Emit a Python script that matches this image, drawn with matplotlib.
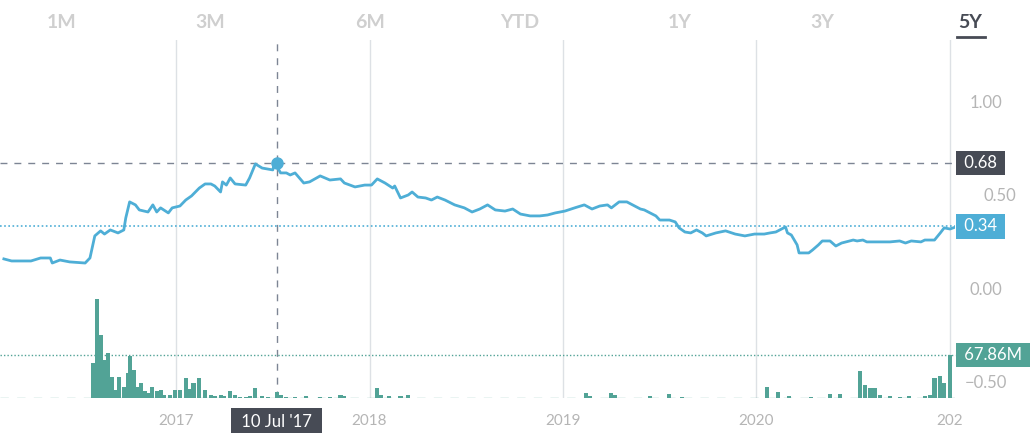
import matplotlib.pyplot as plt
from matplotlib.patches import FancyBboxPatch

# price line (fractional year, price)
price_years = [2016.11, 2016.15, 2016.25, 2016.30, 2016.35, 2016.36, 2016.40, 2016.45, 2016.53, 2016.555,
               2016.58, 2016.61, 2016.63, 2016.66, 2016.70, 2016.73, 2016.74, 2016.76, 2016.79, 2016.81,
               2016.855, 2016.88, 2016.90, 2016.92, 2016.96, 2016.98, 2017.02, 2017.05, 2017.08, 2017.12,
               2017.15, 2017.18, 2017.20, 2017.23, 2017.24, 2017.26, 2017.28, 2017.305, 2017.36, 2017.38,
               2017.41, 2017.445, 2017.50, 2017.51, 2017.54, 2017.57, 2017.59, 2017.615, 2017.66, 2017.69,
               2017.745, 2017.795, 2017.85, 2017.87, 2017.925, 2017.975, 2018.01, 2018.04, 2018.08, 2018.12,
               2018.13, 2018.16, 2018.20, 2018.22, 2018.25, 2018.29, 2018.32, 2018.35, 2018.39, 2018.44,
               2018.49, 2018.52, 2018.53, 2018.57, 2018.61, 2018.65, 2018.70, 2018.74, 2018.78, 2018.83,
               2018.88, 2018.92, 2018.96, 2019.01, 2019.06, 2019.11, 2019.15, 2019.19, 2019.23, 2019.25,
               2019.29, 2019.33, 2019.36, 2019.40, 2019.42, 2019.48, 2019.50, 2019.55, 2019.58, 2019.60,
               2019.63, 2019.66, 2019.69, 2019.72, 2019.74, 2019.79, 2019.84, 2019.89, 2019.94, 2019.99,
               2020.04, 2020.07, 2020.10, 2020.12, 2020.15, 2020.16, 2020.18, 2020.21, 2020.22, 2020.27,
               2020.29, 2020.32, 2020.34, 2020.38, 2020.41, 2020.44, 2020.48, 2020.50, 2020.52, 2020.55,
               2020.57, 2020.61, 2020.69, 2020.74, 2020.77, 2020.80, 2020.85, 2020.87, 2020.92, 2020.95,
               2020.97, 2021.00, 2021.03]
price_vals = [0.166, 0.155, 0.155, 0.171, 0.171, 0.144, 0.160, 0.150, 0.144, 0.171,
              0.289, 0.316, 0.299, 0.321, 0.305, 0.321, 0.385, 0.471, 0.455, 0.428,
              0.417, 0.455, 0.417, 0.439, 0.412, 0.439, 0.449, 0.481, 0.503, 0.545,
              0.567, 0.567, 0.556, 0.524, 0.578, 0.561, 0.599, 0.567, 0.561, 0.599,
              0.674, 0.652, 0.642, 0.684, 0.626, 0.626, 0.615, 0.626, 0.572, 0.578,
              0.610, 0.588, 0.594, 0.572, 0.551, 0.561, 0.561, 0.594, 0.572, 0.545,
              0.556, 0.492, 0.508, 0.524, 0.497, 0.492, 0.481, 0.497, 0.481, 0.455,
              0.439, 0.422, 0.417, 0.433, 0.455, 0.428, 0.422, 0.433, 0.406, 0.396,
              0.396, 0.401, 0.412, 0.422, 0.439, 0.455, 0.433, 0.449, 0.455, 0.439,
              0.471, 0.471, 0.455, 0.433, 0.428, 0.396, 0.374, 0.374, 0.364, 0.332,
              0.310, 0.305, 0.321, 0.305, 0.289, 0.305, 0.316, 0.299, 0.289, 0.299,
              0.299, 0.305, 0.310, 0.321, 0.337, 0.305, 0.294, 0.241, 0.198, 0.198,
              0.214, 0.241, 0.262, 0.262, 0.235, 0.251, 0.262, 0.267, 0.262, 0.267,
              0.257, 0.257, 0.257, 0.262, 0.251, 0.262, 0.257, 0.267, 0.267, 0.305,
              0.332, 0.326, 0.337]

# weekly volume (fractional year, millions)
vol_years = [2016.57, 2016.59, 2016.61, 2016.63, 2016.65, 2016.67, 2016.685, 2016.705, 2016.73, 2016.75,
             2016.76, 2016.78, 2016.80, 2016.82, 2016.84, 2016.86, 2016.875, 2016.90, 2016.92, 2016.94,
             2016.97, 2016.995, 2017.02, 2017.05, 2017.07, 2017.09, 2017.12, 2017.15, 2017.18, 2017.20,
             2017.23, 2017.25, 2017.28, 2017.305, 2017.33, 2017.36, 2017.38, 2017.41, 2017.445, 2017.475,
             2017.52, 2017.54, 2017.57, 2017.615, 2017.67, 2017.745, 2017.795, 2017.85, 2017.87, 2018.04,
             2018.06, 2018.10, 2018.16, 2018.20, 2019.12, 2019.14, 2019.25, 2019.27, 2019.45, 2019.55,
             2019.615, 2020.055, 2020.11, 2020.17, 2020.28, 2020.38, 2020.43, 2020.535, 2020.56, 2020.585,
             2020.61, 2020.64, 2020.69, 2020.74, 2020.79, 2020.87, 2020.895, 2020.92, 2020.95, 2020.97,
             2021.00]
vol_vals = [55, 156, 99, 60, 71, 33, 13, 33, 17, 39,
            66, 44, 17, 24, 11, 8, 17, 11, 13, 5,
            5, 13, 13, 32, 14, 24, 32, 13, 5, 3,
            5, 3, 11, 5, 2, 2, 3, 16, 3, 2,
            9, 5, 2, 2, 3, 2, 2, 5, 3, 16,
            5, 3, 3, 5, 8, 3, 8, 5, 3, 6,
            2, 17, 9, 3, 2, 6, 6, 43, 21, 16,
            16, 5, 3, 2, 3, 3, 5, 32, 35, 24,
            67.86]

year_ticks = [2017, 2018, 2019, 2020, 2021]
year_labels = ["2017", "2018", "2019", "2020", "202"]
price_ticks = [1.00, 0.50, 0.00, -0.50]
ranges = ["1M", "3M", "6M", "YTD", "1Y", "3Y", "5Y"]
range_x = [62, 210, 370, 520, 680, 822, 970]

peak_year, peak_val = 2017.52, 0.68
last_val = 0.34
last_vol = 67.86

LINE = "#4eaed6"
BAR = "#52a396"
DARK = "#474b55"
GREY = "#b5b5b5"

plt.rcParams["font.family"] = ["Lato", "DejaVu Sans"]
W, H = 1030, 433
fig = plt.figure(figsize=(W / 100, H / 100), dpi=100)

ax = fig.add_axes([0, 1 - 398 / H, 955 / W, 358 / H])
ax.set_xlim(2016.09, 2021.026)
ax.set_ylim(-0.578, 1.337)
for s in ax.spines.values():
    s.set_visible(False)
ax.set_xticks([])
ax.set_yticks([])
ax.patch.set_alpha(0)

for yr in year_ticks:
    ax.axvline(yr, color="#dde1e5", lw=1, zorder=0)

vax = ax.twinx()
vax.set_ylim(0, 565)
vax.set_axis_off()
vax.bar(vol_years, vol_vals, width=0.021, color=BAR, align="center", zorder=2)
vax.axhline(0, color=BAR, lw=1, dashes=(6, 6), alpha=0.6)
vax.axhline(last_vol, color=BAR, lw=1, ls=(0, (1, 1.5)), clip_on=False)

ax.plot(price_years, price_vals, color=LINE, lw=2, zorder=3)
ax.axhline(peak_val, color="#7d8594", lw=1, dashes=(5, 5), clip_on=False)
ax.axhline(last_val, color=LINE, lw=1.2, ls=(0, (1, 1.5)), clip_on=False)
ax.axvline(peak_year, color="#7d8594", lw=1, dashes=(5, 5), ymax=1.0)
ax.plot([peak_year], [peak_val], "o", color=LINE, ms=8, zorder=5)

# right side labels
for v in price_ticks:
    if v == 0.50:
        continue
    ax.text(1.01 + (0.005 if v >= 0 else 0), v, f"{v:.2f}".replace("-", "\u2212"), transform=ax.get_yaxis_transform(),
            color=GREY, fontsize=12, va="center", ha="left")
ax.text(1.03, 0.50, "0.50", transform=ax.get_yaxis_transform(), color=GREY, fontsize=12, va="center")


def tag(axis, y, text, color):
    axis.text(1.005, y, " " + text + " ", transform=axis.get_yaxis_transform(), color="white",
              fontsize=12, va="center", ha="left", zorder=6,
              bbox=dict(boxstyle="square,pad=0.25", fc=color, ec="none"))


tag(ax, peak_val, f"{peak_val:.2f}", DARK)
tag(ax, last_val, f"{last_val:.2f}", LINE)
tag(vax, last_vol, f"{last_vol:.2f}M", BAR)

# year labels
for yr, lab in zip(year_ticks, year_labels):
    ax.text(yr, -0.045, lab, transform=ax.get_xaxis_transform(), color=GREY, fontsize=11,
            ha="center", va="top")
ax.text(peak_year, -0.045, " 10 Jul '17 ", transform=ax.get_xaxis_transform(), color="white",
        fontsize=12, ha="center", va="top", zorder=7,
        bbox=dict(boxstyle="square,pad=0.35", fc=DARK, ec="none"))

# range buttons
for lab, x in zip(ranges, range_x):
    c = DARK if lab == "5Y" else "#cfcfcf"
    fig.text(x / W, 1 - 22 / H, lab, color=c, fontsize=14, fontweight="bold", ha="center", va="center")
fig.add_artist(plt.Line2D([957 / W, 985 / W], [1 - 37 / H, 1 - 37 / H], color=DARK, lw=2))

fig.savefig("out.png", dpi=100)
